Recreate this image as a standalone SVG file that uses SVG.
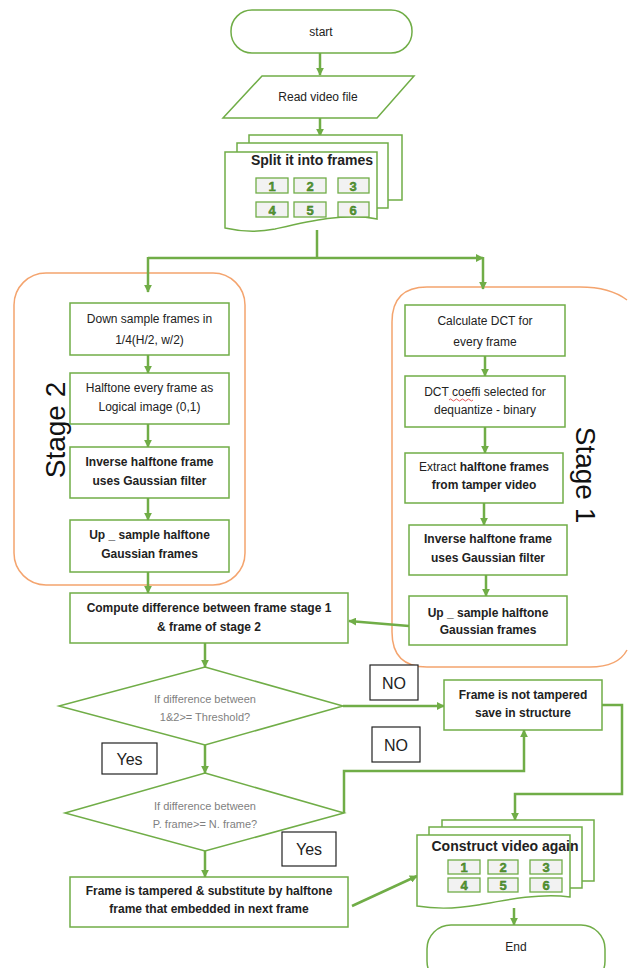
<svg xmlns="http://www.w3.org/2000/svg" width="628" height="968" viewBox="0 0 628 968">
<defs>
<marker id="ah" viewBox="0 0 10 10" refX="9" refY="5" markerWidth="3.2" markerHeight="3.2" orient="auto" markerUnits="strokeWidth">
<path d="M0,0 L10,5 L0,10 Z" fill="#70ad47"/>
</marker>
<style>
.box{fill:#fff;stroke:#70ad47;stroke-width:1.5}
.grp{fill:none;stroke:#f4a46e;stroke-width:1.5}
.con{fill:none;stroke:#70ad47;stroke-width:2.5}
.arr{marker-end:url(#ah)}
.t{font-family:"Liberation Sans",Arial,sans-serif;font-size:12px;fill:#222;text-anchor:middle}
.b{font-weight:bold}
.g{fill:#7f7f7f;font-size:11px}
.lbl{fill:#fff;stroke:#222;stroke-width:1.2}
.lt{font-family:"Liberation Sans",Arial,sans-serif;font-size:16px;fill:#222;text-anchor:middle}
.st{font-family:"Liberation Sans",Arial,sans-serif;font-size:28px;fill:#111;text-anchor:middle}
.nb{fill:#f2f2f2;stroke:#70ad47;stroke-width:1.3}
.nt{font-family:"Liberation Sans",Arial,sans-serif;font-size:13px;font-weight:bold;fill:#5a9a32;stroke:#2f6f1a;stroke-width:0.4;text-anchor:middle}
</style>
</defs>
<rect width="628" height="968" fill="#fff"/>

<g id="stage2">
<rect class="grp" x="14" y="273" width="231" height="312" rx="32"/>
<text class="st" transform="translate(65,430) rotate(-90)">Stage 2</text>
</g>
<g id="stage1">
<path class="grp" d="M627,300 Q610,287 580,287 H427 Q392,287 392,322 V632 Q392,667 427,667 H590 Q618,667 627,650"/>
<text class="st" transform="translate(576,475) rotate(90)">Stage 1</text>
</g>

<g id="connectors">
<line class="con arr" x1="320" y1="53" x2="320" y2="75"/>
<line class="con arr" x1="320" y1="118" x2="320" y2="136"/>
<polyline class="con" points="317,230 317,258"/>
<polyline class="con arr" points="148,258 483,258"/>
<line class="con" x1="148" y1="258" x2="148" y2="258"/>
<polyline class="con arr" points="148,257 148,292"/>
<polyline class="con arr" points="483,257 483,289"/>
<line class="con arr" x1="148" y1="355" x2="148" y2="373"/>
<line class="con arr" x1="148" y1="424" x2="148" y2="447"/>
<line class="con arr" x1="148" y1="498" x2="148" y2="520"/>
<line class="con arr" x1="148" y1="572" x2="148" y2="593"/>
<line class="con arr" x1="485" y1="356" x2="485" y2="376"/>
<line class="con arr" x1="485" y1="427" x2="485" y2="453"/>
<line class="con arr" x1="484" y1="503" x2="484" y2="525"/>
<line class="con arr" x1="486" y1="575" x2="486" y2="596"/>
<line class="con arr" x1="409" y1="626" x2="349" y2="621"/>
<line class="con arr" x1="205" y1="643" x2="205" y2="667"/>
<line class="con arr" x1="343" y1="706" x2="444" y2="706"/>
<line class="con arr" x1="205" y1="745" x2="205" y2="773"/>
<polyline class="con arr" points="344,813 344,771 524,771 524,730"/>
<polyline class="con arr" points="602,705 622,705 622,794 515,794 515,820"/>
<line class="con arr" x1="205" y1="851" x2="205" y2="877"/>
<line class="con arr" x1="352" y1="906" x2="417" y2="876"/>
<line class="con arr" x1="514" y1="908" x2="514" y2="925"/>
</g>

<g id="start">
<rect class="box" x="231" y="10" width="181" height="43" rx="21"/>
<text class="t" x="321" y="36">start</text>
</g>

<g id="read">
<polygon class="box" points="262,76 414,76 377,118 223,118"/>
<text class="t" x="318" y="101">Read video file</text>
</g>

<g id="split">
<polyline class="box" points="249,143 249,135 402,135 402,200 388,200"/>
<polyline class="box" points="237,152 237,143 388,143 388,208 377,208"/>
<path class="box" d="M225,152 H377 V219 C345,212 305,222 275,229 C255,233 238,231 225,228 Z"/>
<text class="t b" x="312" y="165" style="font-size:14px">Split it into frames</text>
<rect class="nb" x="256" y="178" width="32" height="15"/>
<rect class="nb" x="294" y="178" width="32" height="15"/>
<rect class="nb" x="338" y="178" width="31" height="15"/>
<rect class="nb" x="256" y="202" width="32" height="15"/>
<rect class="nb" x="294" y="202" width="32" height="15"/>
<rect class="nb" x="338" y="202" width="31" height="15"/>
<text class="nt" x="272" y="191">1</text>
<text class="nt" x="310" y="191">2</text>
<text class="nt" x="353" y="191">3</text>
<text class="nt" x="272" y="215">4</text>
<text class="nt" x="310" y="215">5</text>
<text class="nt" x="353" y="215">6</text>
</g>

<g id="downsample">
<rect class="box" x="70" y="303" width="159" height="52"/>
<text class="t" x="149.5" y="323">Down sample frames in</text>
<text class="t" x="149.5" y="344">1/4(H/2, w/2)</text>
</g>
<g id="halftone">
<rect class="box" x="70" y="373" width="159" height="51"/>
<text class="t" x="149.5" y="392">Halftone every frame as</text>
<text class="t" x="149.5" y="411">Logical image (0,1)</text>
</g>
<g id="inverse2">
<rect class="box" x="70" y="447" width="159" height="51"/>
<text class="t b" x="149.5" y="466">Inverse halftone frame</text>
<text class="t b" x="149.5" y="485">uses Gaussian filter</text>
</g>
<g id="upsample2">
<rect class="box" x="70" y="520" width="159" height="52"/>
<text class="t b" x="149.5" y="539">Up _ sample halftone</text>
<text class="t b" x="149.5" y="558">Gaussian frames</text>
</g>

<g id="dct">
<rect class="box" x="405" y="305" width="160" height="51"/>
<text class="t" x="485" y="325">Calculate DCT for</text>
<text class="t" x="485" y="346">every frame</text>
</g>
<g id="coeff">
<rect class="box" x="405" y="376" width="160" height="51"/>
<text class="t" x="485" y="396">DCT coeffi selected for</text>
<path d="M449,400 q1.5,-2 3,0 t3,0 t3,0 t3,0 t3,0 t3,0 t3,0 t3,0" fill="none" stroke="#e03030" stroke-width="0.8"/>
<text class="t" x="485" y="414">dequantize - binary</text>
</g>
<g id="extract">
<rect class="box" x="405" y="453" width="158" height="50"/>
<text class="t" x="484" y="471">Extract <tspan class="b">halftone frames</tspan></text>
<text class="t b" x="484" y="489">from tamper video</text>
</g>
<g id="inverse1">
<rect class="box" x="409" y="525" width="158" height="50"/>
<text class="t b" x="488" y="543">Inverse halftone frame</text>
<text class="t b" x="488" y="562">uses Gaussian filter</text>
</g>
<g id="upsample1">
<rect class="box" x="409" y="596" width="158" height="49"/>
<text class="t b" x="488" y="617">Up _ sample halftone</text>
<text class="t b" x="488" y="634">Gaussian frames</text>
</g>

<g id="compute">
<rect class="box" x="70" y="593" width="278" height="50"/>
<text class="t b" x="209" y="612">Compute difference between frame stage 1</text>
<text class="t b" x="209" y="631">&amp; frame of stage 2</text>
</g>

<g id="decision1">
<polygon class="box" points="205,667 343,706 205,745 59,706"/>
<text class="t g" x="205" y="703">If difference between</text>
<text class="t g" x="205" y="721">1&amp;2&gt;= Threshold?</text>
</g>

<g id="notTampered">
<rect class="box" x="444" y="680" width="158" height="50"/>
<text class="t b" x="523" y="699">Frame is not tampered</text>
<text class="t b" x="523" y="717">save in structure</text>
</g>

<g id="no1">
<rect class="lbl" x="370" y="665" width="48" height="35"/>
<text class="lt" x="394" y="689">NO</text>
</g>
<g id="no2">
<rect class="lbl" x="372" y="727" width="48" height="35"/>
<text class="lt" x="396" y="751">NO</text>
</g>
<g id="yes1">
<rect class="lbl" x="102" y="743" width="55" height="31"/>
<text class="lt" x="129.5" y="765">Yes</text>
</g>

<g id="decision2">
<polygon class="box" points="205,773 344,813 205,851 65,813"/>
<text class="t g" x="205" y="810">If difference between</text>
<text class="t g" x="205" y="828">P. frame&gt;= N. frame?</text>
</g>

<g id="yes2">
<rect class="lbl" x="282" y="832" width="54" height="34"/>
<text class="lt" x="309" y="855">Yes</text>
</g>

<g id="tampered">
<rect class="box" x="70" y="877" width="278" height="50"/>
<text class="t b" x="209" y="895">Frame is tampered &amp; substitute by halftone</text>
<text class="t b" x="209" y="913">frame that embedded in next frame</text>
</g>

<g id="construct">
<polyline class="box" points="442,827 442,820 594,820 594,881 582,881"/>
<polyline class="box" points="429,835 429,827 582,827 582,888 570,888"/>
<path class="box" d="M417,835 H570 V897 C540,893 505,900 478,905 C455,909 435,909 417,906 Z"/>
<text class="t b" x="505" y="851" style="font-size:14px">Construct video again</text>
<rect class="nb" x="448" y="860" width="32" height="14"/>
<rect class="nb" x="488" y="860" width="30" height="14"/>
<rect class="nb" x="530" y="860" width="32" height="14"/>
<rect class="nb" x="448" y="878" width="32" height="14"/>
<rect class="nb" x="488" y="878" width="30" height="14"/>
<rect class="nb" x="530" y="878" width="32" height="14"/>
<text class="nt" x="464" y="872">1</text>
<text class="nt" x="503" y="872">2</text>
<text class="nt" x="546" y="872">3</text>
<text class="nt" x="464" y="890">4</text>
<text class="nt" x="503" y="890">5</text>
<text class="nt" x="546" y="890">6</text>
</g>

<g id="end">
<rect class="box" x="427" y="925" width="178" height="60" rx="24"/>
<text class="t" x="516" y="951">End</text>
</g>
</svg>
